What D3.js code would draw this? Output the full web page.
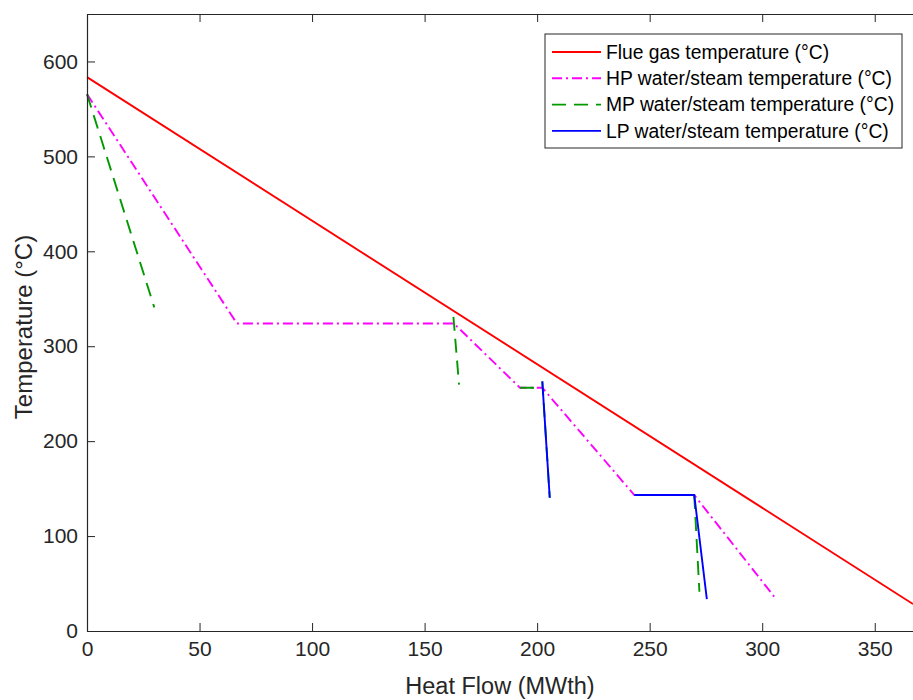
<!DOCTYPE html>
<html>
<head>
<meta charset="utf-8">
<script src="https://cdn.jsdelivr.net/npm/d3@7"></script>
<style>
  body { margin: 0; background: #fff; }
  svg { font-family: "Liberation Sans", Arial, sans-serif; }
</style>
</head>
<body>
<svg id="chart" width="913" height="700"></svg>
<script>
// heat flow (MWth) / temperature (degC) pairs, null = break in the line
const flueX = [0, 367]
const flueY = [583.5, 28.4]

const hpX = [0, 66.6, 163, 192.4, 202.3, 243.2, 269.8, 305.7]
const hpY = [565.6, 324, 324, 256.2, 256.2, 143.2, 143.2, 35.1]

const mpX = [0, 29.9, null, 162.8, 165.3, null, 192.4, 202.3, null, 202.3, 205.6, null, 269.8, 272.1]
const mpY = [565.6, 340.9, null, 331, 259.6, null, 256.2, 256.2, null, 263, 140.4, null, 143.2, 41.4]

const lpX = [202.3, 205.6, null, 243.2, 269.8, 275.4]
const lpY = [263, 140.4, null, 143.2, 143.2, 33.7]

const seriesNames = [
  'Flue gas temperature (\u00B0C)',
  'HP water/steam temperature (\u00B0C)',
  'MP water/steam temperature (\u00B0C)',
  'LP water/steam temperature (\u00B0C)'
]
const xTicks = [0, 50, 100, 150, 200, 250, 300, 350]
const yTicks = [0, 100, 200, 300, 400, 500, 600]

const svg = d3.select('#chart')
const m = { left: 87, top: 14, right: 913, bottom: 631 }
const axisColor = '#262626'

const x = d3.scaleLinear().domain([0, 367]).range([m.left, m.right])
const y = d3.scaleLinear().domain([0, 650]).range([m.bottom, m.top])

const hpDash = '10,4,2,4'
const mpDash = '14,8'

const series = [
  { xs: hpX, ys: hpY, color: '#ff00ff', dash: hpDash },
  { xs: mpX, ys: mpY, color: '#009900', dash: mpDash },
  { xs: lpX, ys: lpY, color: '#0000ff', dash: null },
  { xs: flueX, ys: flueY, color: '#ff0000', dash: null }
]

const line = d3.line()
  .defined(d => d[0] != null)
  .x(d => x(d[0]))
  .y(d => y(d[1]))

const plot = svg.append('g')
series.forEach(function (s) {
  const pts = s.xs.map((v, i) => [v, s.ys[i]])
  plot.append('path')
    .attr('d', line(pts))
    .attr('fill', 'none')
    .attr('stroke', s.color)
    .attr('stroke-width', 1.9)
    .attr('stroke-dasharray', s.dash)
})

// axes, ticks inside like matlab
const xAxis = svg.append('g')
  .attr('transform', `translate(0,${m.bottom})`)
  .call(d3.axisBottom(x).tickValues(xTicks).tickSizeInner(-8).tickSizeOuter(0).tickPadding(10))
const xTop = svg.append('g')
  .attr('transform', `translate(0,${m.top})`)
  .call(d3.axisTop(x).tickValues(xTicks).tickSizeInner(-8).tickSizeOuter(0).tickFormat(''))
const yAxis = svg.append('g')
  .attr('transform', `translate(${m.left},0)`)
  .call(d3.axisLeft(y).tickValues(yTicks).tickSizeInner(-8).tickSizeOuter(0).tickPadding(9))

;[xAxis, xTop, yAxis].forEach(function (a) {
  a.select('.domain').attr('stroke', axisColor).attr('stroke-width', 1.2)
  a.selectAll('.tick line').attr('stroke', axisColor)
  a.selectAll('.tick text').attr('fill', axisColor).style('font-size', '21px')
})
xAxis.selectAll('.tick text').attr('dy', '0.71em')

svg.append('text')
  .attr('x', (m.left + m.right) / 2)
  .attr('y', 694)
  .attr('text-anchor', 'middle')
  .attr('fill', axisColor)
  .style('font-size', '23.5px')
  .text('Heat Flow (MWth)')

svg.append('text')
  .attr('transform', `translate(32,327) rotate(-90)`)
  .attr('text-anchor', 'middle')
  .attr('fill', axisColor)
  .style('font-size', '24px')
  .text('Temperature (\u00B0C)')

// legend
const legend = svg.append('g')
legend.append('rect')
  .attr('x', 545).attr('y', 34).attr('width', 357).attr('height', 114)
  .attr('fill', '#fff').attr('stroke', axisColor).attr('stroke-width', 1)

const legendStyle = [
  { color: '#ff0000', dash: null },
  { color: '#ff00ff', dash: hpDash },
  { color: '#009900', dash: mpDash },
  { color: '#0000ff', dash: null }
]
seriesNames.forEach(function (name, i) {
  const ly = 52 + i * 26.3
  legend.append('line')
    .attr('x1', 552).attr('x2', 601).attr('y1', ly).attr('y2', ly)
    .attr('stroke', legendStyle[i].color)
    .attr('stroke-width', 1.9)
    .attr('stroke-dasharray', legendStyle[i].dash)
  legend.append('text')
    .attr('x', 606).attr('y', ly).attr('dy', '0.35em')
    .attr('fill', '#000')
    .style('font-size', '19.3px')
    .text(name)
})
</script>
</body>
</html>
